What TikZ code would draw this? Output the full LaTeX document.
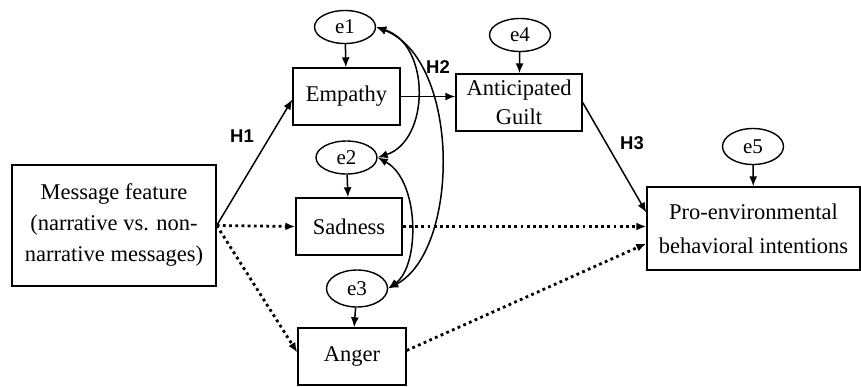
\documentclass[tikz,border=0pt]{standalone}
\usepackage{fontspec}
\setmainfont{Liberation Serif}
\newfontfamily\hfont{Liberation Sans}
\usepackage{tikz}
\usetikzlibrary{calc}
\usetikzlibrary{arrows.meta}
\usetikzlibrary{shapes.geometric}
\tikzset{>={Latex[length=10pt,width=8pt]}}

\tikzset{
  box/.style={draw, line width=1.4pt, align=center, inner sep=0pt,
    font=\fontsize{22.5}{31}\selectfont},
  err/.style={draw, ellipse, line width=1.4pt, inner sep=0pt,
    minimum width=61pt, minimum height=33pt, font=\fontsize{21}{24}\selectfont},
  hyp/.style={font=\hfont\bfseries\fontsize{18.5}{20}\selectfont},
  solidarrow/.style={->, line width=1.5pt},
  dotarrow/.style={->, line width=2.8pt, dash pattern=on 2.8pt off 3.4pt},
}

\begin{document}
\begin{tikzpicture}[x=1pt,y=-1pt]
		\useasboundingbox (0,0) rectangle (861,386);

		% The variable boxes
		\node [box, minimum width=204pt, minimum height=121pt] (msg) at (114,225.5)
		  {Message feature\\(narrative vs. non-\\narrative messages)};
		\node [box, minimum width=107pt, minimum height=57pt] (emp) at (346.5,96.5) {Empathy};
		\node [box, minimum width=106pt, minimum height=57pt] (sad) at (349,226.5) {Sadness};
		\node [box, minimum width=108pt, minimum height=57pt] (ang) at (352,356.5) {Anger};
		\node [box, minimum width=126pt, minimum height=57pt,
		  font=\fontsize{22.5}{29}\selectfont] (guilt) at (519,102.5) {Anticipated\\Guilt};
		\node [box, minimum width=213pt, minimum height=83pt,
		  font=\fontsize{22.5}{34}\selectfont] (pro) at (753.5,228.5)
		  {Pro-environmental\\behavioral intentions};

		% The error terms
		\node [err] (e1) at (345,27) {e1};
		\node [err] (e2) at (346.5,157.5) {e2};
		\node [err, minimum height=37pt] (e3) at (357,288.5) {e3};
		\node [err] (e4) at (520,35) {e4};
		\node [err, minimum height=36pt] (e5) at (753,146.5) {e5};

		\foreach \e/\v in {e1/emp, e2/sad, e3/ang, e4/guilt, e5/pro} {
		  \draw [solidarrow] (\e) -- (\v);
		}

		% Paths of the model
		\draw [solidarrow] (msg.east) -- ([yshift=-3pt]emp.west);
		\draw [solidarrow] (emp.east) -- (emp.east -| guilt.west);
		\draw [solidarrow] (guilt.east) -- ([yshift=16pt]pro.west);
		\draw [dotarrow] (msg.east) -- (sad.west);
		\draw [dotarrow] (msg.east) -- ([yshift=4pt]ang.west);
		\draw [dotarrow] (sad.east) -- (sad.east -| pro.west);
		\draw [dotarrow] ([yshift=6pt]ang.east) -- ([yshift=-15pt]pro.west);

		% Covariances between the error terms
		\draw [solidarrow, <->] (e1.east) .. controls +(55,18) and +(52,-17) .. (e2.east);
		\draw [solidarrow, <->] (e1.east) .. controls +(85,33) and +(72,-38) .. (e3.east);
		\draw [solidarrow, <->] (e2.east) .. controls +(42,23) and +(32,-23) .. (e3.east);

		% Hypothesis labels
		\node [hyp] (h1) at (242,136) {H1};
		\node [hyp] (h2) at (438,67) {H2};
		\node [hyp] (h3) at (632,143) {H3};
	\end{tikzpicture}
\end{document}
